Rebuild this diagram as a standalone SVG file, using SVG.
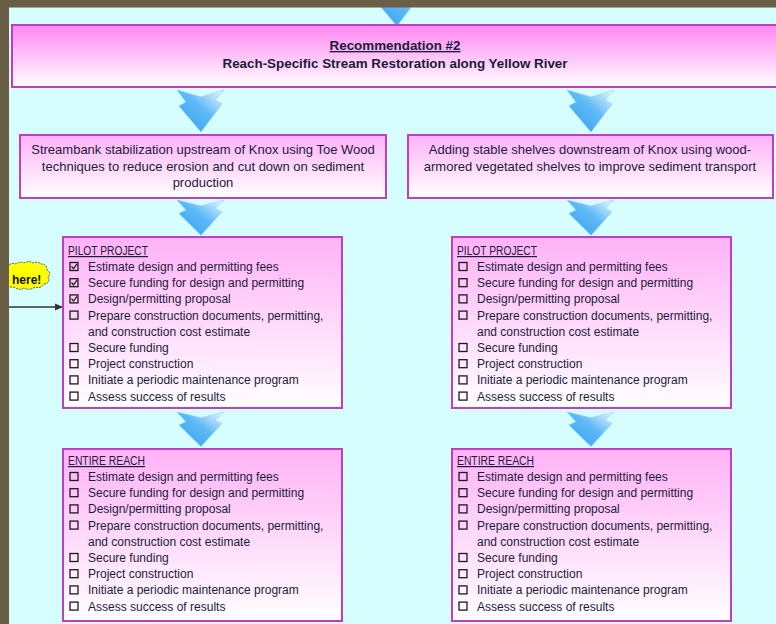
<svg xmlns="http://www.w3.org/2000/svg" width="776" height="624" viewBox="0 0 776 624">
<style>
.box{stroke:#c13fbd;stroke-width:2}
.t{font-family:"Liberation Sans",Arial,sans-serif;fill:#1b1b3b}
.li{font-size:12px}
.hd{font-size:12px;text-decoration:underline}
.l2{font-size:13px}
.ti{font-size:13.4px;font-weight:bold}
.cb{fill:none;stroke:#1b1b1b;stroke-width:1.3}
.ck{fill:none;stroke:#1b1b1b;stroke-width:1.2}
.chev{fill:url(#blue);stroke:#7cc6f5;stroke-width:0.5}
</style>
<defs>
<linearGradient id="pinkTop" x1="0" y1="0" x2="0" y2="1">
<stop offset="0" stop-color="#ff86f2"/>
<stop offset="1" stop-color="#ffffff"/>
</linearGradient>
<linearGradient id="pink" x1="0" y1="0" x2="0" y2="1">
<stop offset="0" stop-color="#ffb2f7"/>
<stop offset="1" stop-color="#ffffff"/>
</linearGradient>
<linearGradient id="blue" x1="0" y1="1" x2="1" y2="0">
<stop offset="0" stop-color="#2f9ff0"/>
<stop offset="0.55" stop-color="#5fbaf6"/>
<stop offset="1" stop-color="#f0faff"/>
</linearGradient>
<path id="chev" d="M-24,0 L0,7 L23,0 L14,10 L21,14 L0,42 L-22,16 L-15,12 Z"/>
<marker id="ah" markerWidth="8" markerHeight="8" refX="7" refY="4" orient="auto" markerUnits="userSpaceOnUse">
<path d="M0,0.5 L8,4 L0,7.5 Z" fill="#333"/>
</marker>
</defs>

<rect x="0" y="0" width="776" height="624" fill="#d6fefe"/>

<g id="connectors">
<use href="#chev" class="chev" transform="translate(397,-16)"/>
<use href="#chev" class="chev" transform="translate(201,90)"/>
<use href="#chev" class="chev" transform="translate(591,90)"/>
<use href="#chev" class="chev" transform="translate(201,200) scale(1,0.84)"/>
<use href="#chev" class="chev" transform="translate(591,200) scale(1,0.84)"/>
<use href="#chev" class="chev" transform="translate(201,412) scale(1,0.82)"/>
<use href="#chev" class="chev" transform="translate(591,412) scale(1,0.82)"/>
<line x1="9" y1="307" x2="62" y2="307" stroke="#333" stroke-width="1.3" marker-end="url(#ah)"/>
</g>

<g id="here">
<path d="M7,267 q4,-5 9,-3 q4,-3 8,-1 q5,-3 9,0 q5,-2 8,1 q6,0 6,6 q5,3 1,7 q3,6 -4,7 q-3,5 -9,3 q-5,4 -11,1 q-5,3 -10,-1 q-6,1 -7,-4 q-6,-8 0,-16 z" fill="#ffff00" stroke="#555" stroke-width="1" stroke-dasharray="2,1"/>
<text x="12" y="284" class="t" style="font-size:12px;font-weight:bold;fill:#111">here!</text>
</g>

<g id="rec2">
<rect x="12" y="25" width="772" height="62" fill="url(#pinkTop)" class="box"/>
<text x="395" y="50" text-anchor="middle" class="t ti" text-decoration="underline">Recommendation #2</text>
<text x="395" y="68" text-anchor="middle" class="t ti">Reach-Specific Stream Restoration along Yellow River</text>
</g>

<g id="streambank">
<rect x="20" y="135" width="366" height="63" fill="url(#pink)" class="box"/>
<text x="203" y="154" text-anchor="middle" class="t l2">Streambank stabilization upstream of Knox using Toe Wood</text>
<text x="203" y="170.5" text-anchor="middle" class="t l2">techniques to reduce erosion and cut down on sediment</text>
<text x="203" y="187" text-anchor="middle" class="t l2">production</text>
</g>

<g id="shelves">
<rect x="408" y="135" width="365" height="63" fill="url(#pink)" class="box"/>
<text x="590" y="154" text-anchor="middle" class="t l2">Adding stable shelves downstream of Knox using wood-</text>
<text x="590" y="170.5" text-anchor="middle" class="t l2">armored vegetated shelves to improve sediment transport</text>
</g>

<g id="pilot-left">
<rect x="63" y="237" width="279" height="171" fill="url(#pink)" class="box"/>
<text x="68" y="255" class="t hd" textLength="80" lengthAdjust="spacingAndGlyphs">PILOT PROJECT</text>
<rect x="70" y="262.5" width="8" height="8" class="cb"/><path d="M71.5,266.3 l2,2.4 l3.5,-4.8" class="ck"/>
<text x="88" y="271" class="t li">Estimate design and permitting fees</text>
<rect x="70" y="278.7" width="8" height="8" class="cb"/><path d="M71.5,282.5 l2,2.4 l3.5,-4.8" class="ck"/>
<text x="88" y="287.2" class="t li">Secure funding for design and permitting</text>
<rect x="70" y="294.9" width="8" height="8" class="cb"/><path d="M71.5,298.7 l2,2.4 l3.5,-4.8" class="ck"/>
<text x="88" y="303.4" class="t li">Design/permitting proposal</text>
<rect x="70" y="311.1" width="8" height="8" class="cb"/>
<text x="88" y="319.6" class="t li">Prepare construction documents, permitting,</text>
<text x="88" y="335.8" class="t li">and construction cost estimate</text>
<rect x="70" y="343.5" width="8" height="8" class="cb"/>
<text x="88" y="352" class="t li">Secure funding</text>
<rect x="70" y="359.7" width="8" height="8" class="cb"/>
<text x="88" y="368.2" class="t li">Project construction</text>
<rect x="70" y="375.9" width="8" height="8" class="cb"/>
<text x="88" y="384.4" class="t li">Initiate a periodic maintenance program</text>
<rect x="70" y="392.1" width="8" height="8" class="cb"/>
<text x="88" y="400.6" class="t li">Assess success of results</text>
</g>

<g id="pilot-right">
<rect x="452" y="237" width="279" height="171" fill="url(#pink)" class="box"/>
<text x="457" y="255" class="t hd" textLength="80" lengthAdjust="spacingAndGlyphs">PILOT PROJECT</text>
<rect x="459" y="262.5" width="8" height="8" class="cb"/>
<text x="477" y="271" class="t li">Estimate design and permitting fees</text>
<rect x="459" y="278.7" width="8" height="8" class="cb"/>
<text x="477" y="287.2" class="t li">Secure funding for design and permitting</text>
<rect x="459" y="294.9" width="8" height="8" class="cb"/>
<text x="477" y="303.4" class="t li">Design/permitting proposal</text>
<rect x="459" y="311.1" width="8" height="8" class="cb"/>
<text x="477" y="319.6" class="t li">Prepare construction documents, permitting,</text>
<text x="477" y="335.8" class="t li">and construction cost estimate</text>
<rect x="459" y="343.5" width="8" height="8" class="cb"/>
<text x="477" y="352" class="t li">Secure funding</text>
<rect x="459" y="359.7" width="8" height="8" class="cb"/>
<text x="477" y="368.2" class="t li">Project construction</text>
<rect x="459" y="375.9" width="8" height="8" class="cb"/>
<text x="477" y="384.4" class="t li">Initiate a periodic maintenance program</text>
<rect x="459" y="392.1" width="8" height="8" class="cb"/>
<text x="477" y="400.6" class="t li">Assess success of results</text>
</g>

<g id="reach-left">
<rect x="63" y="449" width="279" height="172" fill="url(#pink)" class="box"/>
<text x="68" y="465" class="t hd" textLength="77" lengthAdjust="spacingAndGlyphs">ENTIRE REACH</text>
<rect x="70" y="472.5" width="8" height="8" class="cb"/>
<text x="88" y="481" class="t li">Estimate design and permitting fees</text>
<rect x="70" y="488.7" width="8" height="8" class="cb"/>
<text x="88" y="497.2" class="t li">Secure funding for design and permitting</text>
<rect x="70" y="504.9" width="8" height="8" class="cb"/>
<text x="88" y="513.4" class="t li">Design/permitting proposal</text>
<rect x="70" y="521.1" width="8" height="8" class="cb"/>
<text x="88" y="529.6" class="t li">Prepare construction documents, permitting,</text>
<text x="88" y="545.8" class="t li">and construction cost estimate</text>
<rect x="70" y="553.5" width="8" height="8" class="cb"/>
<text x="88" y="562" class="t li">Secure funding</text>
<rect x="70" y="569.7" width="8" height="8" class="cb"/>
<text x="88" y="578.2" class="t li">Project construction</text>
<rect x="70" y="585.9" width="8" height="8" class="cb"/>
<text x="88" y="594.4" class="t li">Initiate a periodic maintenance program</text>
<rect x="70" y="602.1" width="8" height="8" class="cb"/>
<text x="88" y="610.6" class="t li">Assess success of results</text>
</g>

<g id="reach-right">
<rect x="452" y="449" width="279" height="172" fill="url(#pink)" class="box"/>
<text x="457" y="465" class="t hd" textLength="77" lengthAdjust="spacingAndGlyphs">ENTIRE REACH</text>
<rect x="459" y="472.5" width="8" height="8" class="cb"/>
<text x="477" y="481" class="t li">Estimate design and permitting fees</text>
<rect x="459" y="488.7" width="8" height="8" class="cb"/>
<text x="477" y="497.2" class="t li">Secure funding for design and permitting</text>
<rect x="459" y="504.9" width="8" height="8" class="cb"/>
<text x="477" y="513.4" class="t li">Design/permitting proposal</text>
<rect x="459" y="521.1" width="8" height="8" class="cb"/>
<text x="477" y="529.6" class="t li">Prepare construction documents, permitting,</text>
<text x="477" y="545.8" class="t li">and construction cost estimate</text>
<rect x="459" y="553.5" width="8" height="8" class="cb"/>
<text x="477" y="562" class="t li">Secure funding</text>
<rect x="459" y="569.7" width="8" height="8" class="cb"/>
<text x="477" y="578.2" class="t li">Project construction</text>
<rect x="459" y="585.9" width="8" height="8" class="cb"/>
<text x="477" y="594.4" class="t li">Initiate a periodic maintenance program</text>
<rect x="459" y="602.1" width="8" height="8" class="cb"/>
<text x="477" y="610.6" class="t li">Assess success of results</text>
</g>

<g id="frame">
<rect x="0" y="0" width="776" height="7.5" fill="#6b5e46"/>
<rect x="0" y="0" width="9" height="624" fill="#6b5e46"/>
</g>
</svg>
